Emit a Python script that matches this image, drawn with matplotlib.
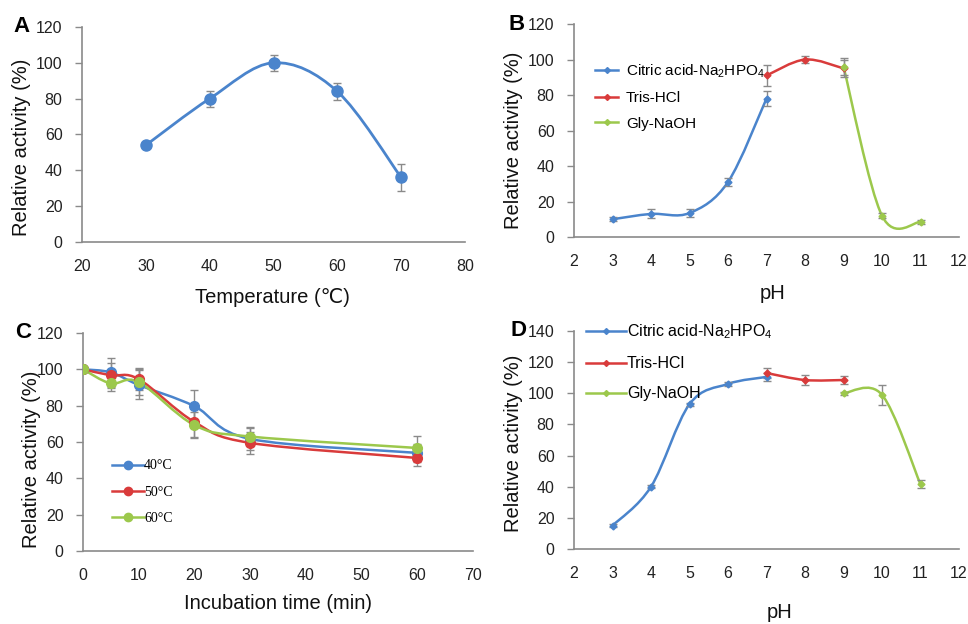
import numpy as np
import matplotlib
matplotlib.use("Agg")
import matplotlib.pyplot as plt
from matplotlib.path import Path
from matplotlib.patches import PathPatch
from matplotlib.lines import Line2D

plt.rcParams['font.family'] = ['Liberation Sans', 'DejaVu Sans']
plt.rcParams['mathtext.fontset'] = 'custom'
plt.rcParams['mathtext.rm'] = 'Liberation Sans'
plt.rcParams['mathtext.it'] = 'Liberation Sans'
plt.rcParams['mathtext.default'] = 'regular'

# ---- data ----
# A: optimum temperature
temp_x = [30, 40, 50, 60, 70]
temp_y = [54, 80, 100, 84, 36]
temp_err = [1.5, 4.5, 4.5, 4.5, 7.5]

# B: optimum pH
phB_citric_x = [3, 4, 5, 6, 7]
phB_citric_y = [10, 13, 13.5, 31, 78]
phB_citric_err = [1, 2.5, 2, 2, 4]
phB_tris_x = [7, 8, 9]
phB_tris_y = [91, 100, 95]
phB_tris_err = [6, 2, 5]
phB_gly_x = [9, 10, 11]
phB_gly_y = [96, 12, 8.5]
phB_gly_err = [5, 1.5, 1]

# C: thermostability
time_x = [0, 5, 10, 20, 30, 60]
t40_y = [100, 98.3, 91.4, 79.7, 61.7, 54]
t40_err = [1, 8, 8, 9, 6, 5]
t50_y = [100, 96.7, 94.6, 71, 59.5, 51.2]
t50_err = [1, 7, 6, 8, 6, 4.5]
t60_y = [100, 92.2, 93, 69.3, 63, 56.7]
t60_err = [1, 4, 7, 7, 5, 6.5]

# D: pH stability
phD_citric_x = [3, 4, 5, 6, 7]
phD_citric_y = [15, 40, 93, 106, 110.5]
phD_citric_err = [1, 1, 1, 1.5, 2.5]
phD_tris_x = [7, 8, 9]
phD_tris_y = [113, 108.5, 108.5]
phD_tris_err = [3, 3, 2.5]
phD_gly_x = [9, 10, 11]
phD_gly_y = [100, 99, 41.5]
phD_gly_err = [1, 6.5, 2.5]

buffer_labels = ['Citric acid-Na$_2$HPO$_4$', 'Tris-HCl', 'Gly-NaOH']
temp_labels = ['40\u00b0C', '50\u00b0C', '60\u00b0C']

BLUE = '#4a84cc'
RED = '#d93b3b'
GREEN = '#9cc84c'
GREY = '#8a8a8a'


def smooth(ax, x, y, color, lw=1.8):
    # excel-like smoothed line, catmull-rom turned into cubic bezier pieces
    x = np.asarray(x, float)
    y = np.asarray(y, float)
    pts = np.column_stack([x, y])
    n = len(pts)
    verts = [pts[0]]
    codes = [Path.MOVETO]
    for i in range(n - 1):
        p0 = pts[i - 1] if i > 0 else pts[i]
        p1 = pts[i]
        p2 = pts[i + 1]
        p3 = pts[i + 2] if i + 2 < n else pts[i + 1]
        c1 = p1 + (p2 - p0) / 6.0
        c2 = p2 - (p3 - p1) / 6.0
        verts += [c1, c2, p2]
        codes += [Path.CURVE4] * 3
    ax.add_patch(PathPatch(Path(verts, codes), fill=False, edgecolor=color,
                           lw=lw, capstyle='round', zorder=2))


def points(ax, x, y, err, color, marker='o', ms=7):
    ax.errorbar(x, y, yerr=err, fmt='none', ecolor=GREY, elinewidth=1,
                capsize=3, capthick=1, zorder=3)
    ax.plot(x, y, linestyle='none', marker=marker, ms=ms, color=color,
            zorder=4)


def style(ax, xlim, xticks, ylim, yticks):
    ax.set_xlim(*xlim)
    ax.set_ylim(*ylim)
    ax.set_xticks(xticks)
    ax.set_yticks(yticks)
    for s in ['top', 'right']:
        ax.spines[s].set_visible(False)
    for s in ['left', 'bottom']:
        ax.spines[s].set_color(GREY)
        ax.spines[s].set_linewidth(1.2)
        ax.spines[s].set_clip_on(False)
    ax.tick_params(axis='y', direction='out', length=5, width=1,
                   color=GREY, pad=9, labelsize=11.5, labelcolor='#222222')
    ax.tick_params(axis='x', length=0, pad=12, labelsize=11.5,
                   labelcolor='#222222')


def labels(ax, xlabel, ylabel, xl_pos, yl_pos):
    ax.set_xlabel(xlabel, fontsize=14.5, color='#111111')
    ax.set_ylabel(ylabel, fontsize=14.5, color='#111111')
    ax.xaxis.label.set_va('center')
    ax.yaxis.label.set_va('center')
    ax.xaxis.set_label_coords(*xl_pos)
    ax.yaxis.set_label_coords(*yl_pos)


fig = plt.figure(figsize=(9.68, 6.24), dpi=100)

axA = fig.add_axes([0.0847, 0.6122, 0.3957, 0.3446])
axB = fig.add_axes([0.593, 0.6202, 0.3977, 0.3413])
axC = fig.add_axes([0.0857, 0.1170, 0.4029, 0.3494])
axD = fig.add_axes([0.593, 0.1202, 0.3977, 0.3494])

# A
smooth(axA, temp_x, temp_y, BLUE, lw=2)
points(axA, temp_x, temp_y, temp_err, BLUE, ms=8)
style(axA, (20, 80), range(20, 81, 10), (0, 120), range(0, 121, 20))
labels(axA, 'Temperature (\u2103)', 'Relative activity (%)',
       (0.496, -0.26), (-0.157, 0.44))

# B
for bx, by, be, c in [(phB_citric_x, phB_citric_y, phB_citric_err, BLUE),
                      (phB_tris_x, phB_tris_y, phB_tris_err, RED),
                      (phB_gly_x, phB_gly_y, phB_gly_err, GREEN)]:
    smooth(axB, bx, by, c)
    points(axB, bx, by, be, c, marker='D', ms=3.5)
style(axB, (2, 12), range(2, 13), (0, 120), range(0, 121, 20))
labels(axB, 'pH', 'Relative activity (%)', (0.517, -0.263), (-0.157, 0.455))
hB = [Line2D([], [], color=c, lw=1.8, marker='D', ms=3)
      for c in (BLUE, RED, GREEN)]
axB.legend(hB, buffer_labels, loc='upper left', bbox_to_anchor=(0.055, 0.82),
           frameon=False, fontsize=11, handlelength=1.5, handletextpad=0.5,
           labelspacing=0.75, borderpad=0, borderaxespad=0)

# C
for ty, te, c in [(t40_y, t40_err, BLUE), (t50_y, t50_err, RED),
                  (t60_y, t60_err, GREEN)]:
    smooth(axC, time_x, ty, c)
    points(axC, time_x, ty, te, c, ms=7)
style(axC, (0, 70), range(0, 71, 10), (0, 120), range(0, 121, 20))
labels(axC, 'Incubation time (min)', 'Relative activity (%)',
       (0.5, -0.243), (-0.133, 0.42))
hC = [Line2D([], [], color=c, lw=1.8, marker='o', ms=6)
      for c in (BLUE, RED, GREEN)]
axC.legend(hC, temp_labels, loc='upper left', bbox_to_anchor=(0.075, 0.42),
           frameon=False, handlelength=2.3, handletextpad=0.0,
           labelspacing=0.95, borderpad=0, borderaxespad=0,
           prop={'family': 'Liberation Serif', 'size': 10})

# D
for dx, dy, de, c in [(phD_citric_x, phD_citric_y, phD_citric_err, BLUE),
                      (phD_tris_x, phD_tris_y, phD_tris_err, RED),
                      (phD_gly_x, phD_gly_y, phD_gly_err, GREEN)]:
    smooth(axD, dx, dy, c)
    points(axD, dx, dy, de, c, marker='D', ms=3.5)
style(axD, (2, 12), range(2, 13), (0, 140), range(0, 141, 20))
labels(axD, 'pH', 'Relative activity (%)', (0.535, -0.289), (-0.157, 0.484))
hD = [Line2D([], [], color=c, lw=1.8, marker='D', ms=3)
      for c in (BLUE, RED, GREEN)]
axD.legend(hD, buffer_labels, loc='upper left', bbox_to_anchor=(0.03, 1.04),
           frameon=False, fontsize=11.5, handlelength=2.5, handletextpad=0.1,
           labelspacing=0.95, borderpad=0, borderaxespad=0)

# panel letters
for lx, ly, t in [(21, 27, 'A'), (517, 24, 'B'), (23, 333, 'C'), (519, 331, 'D')]:
    fig.text(lx / 968, 1 - ly / 624, t, fontsize=16, fontweight='bold',
             ha='center', va='center')

fig.savefig('out.png', dpi=100)
